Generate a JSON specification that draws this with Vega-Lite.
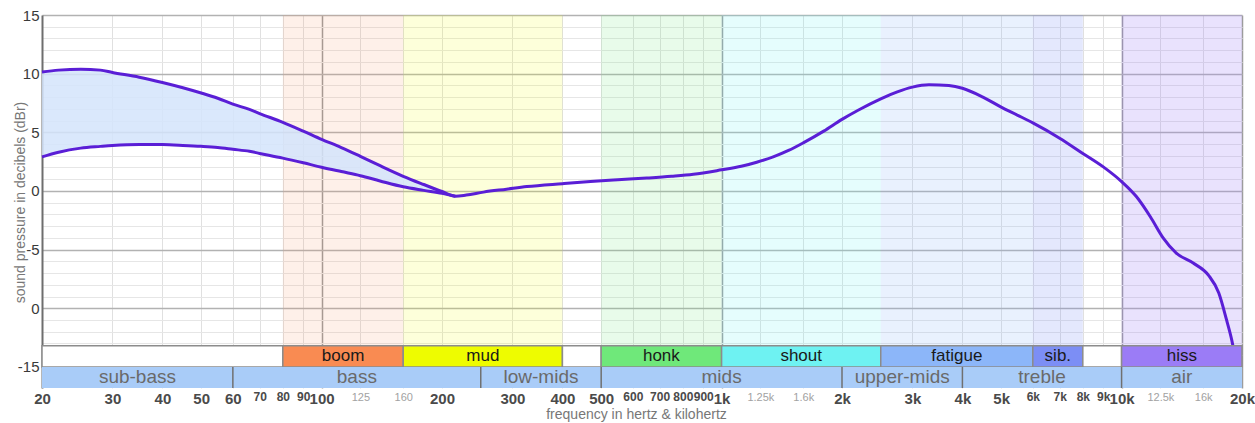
{
  "$schema": "https://vega.github.io/schema/vega-lite/v6.json",
  "width": 1200,
  "height": 373,
  "autosize": {"type": "none"},
  "padding": {"left": 42, "top": 15, "right": 13, "bottom": 35},
  "background": "white",
  "config": {"view": {"stroke": null}, "font": "Liberation Sans"},
  "datasets": {
    "response": [
      {"f": 20, "top": 10.15, "bottom": 2.9},
      {"f": 22, "top": 10.3, "bottom": 3.3},
      {"f": 25, "top": 10.38, "bottom": 3.65},
      {"f": 28, "top": 10.3, "bottom": 3.8},
      {"f": 30, "top": 10.1, "bottom": 3.88},
      {"f": 35, "top": 9.7, "bottom": 3.97},
      {"f": 40, "top": 9.25, "bottom": 3.95},
      {"f": 45, "top": 8.8, "bottom": 3.88},
      {"f": 50, "top": 8.35, "bottom": 3.8},
      {"f": 55, "top": 7.9, "bottom": 3.7},
      {"f": 60, "top": 7.4, "bottom": 3.55},
      {"f": 66, "top": 6.95, "bottom": 3.38},
      {"f": 70, "top": 6.6, "bottom": 3.2},
      {"f": 80, "top": 5.85, "bottom": 2.8},
      {"f": 90, "top": 5.1, "bottom": 2.4},
      {"f": 100, "top": 4.4, "bottom": 2.02},
      {"f": 112, "top": 3.7, "bottom": 1.65},
      {"f": 125, "top": 2.95, "bottom": 1.3},
      {"f": 140, "top": 2.15, "bottom": 0.85},
      {"f": 160, "top": 1.25, "bottom": 0.35},
      {"f": 180, "top": 0.55, "bottom": 0.05},
      {"f": 200, "top": -0.05, "bottom": -0.2},
      {"f": 216, "top": -0.45, "bottom": -0.45},
      {"f": 230, "top": -0.35},
      {"f": 254, "top": -0.1},
      {"f": 290, "top": 0.15},
      {"f": 326, "top": 0.37},
      {"f": 400, "top": 0.62},
      {"f": 470, "top": 0.8},
      {"f": 550, "top": 0.95},
      {"f": 650, "top": 1.1},
      {"f": 750, "top": 1.25},
      {"f": 850, "top": 1.42},
      {"f": 1000, "top": 1.8},
      {"f": 1120, "top": 2.1},
      {"f": 1224, "top": 2.45},
      {"f": 1346, "top": 2.9},
      {"f": 1470, "top": 3.45},
      {"f": 1600, "top": 4.1},
      {"f": 1800, "top": 5.1},
      {"f": 2000, "top": 6.1},
      {"f": 2200, "top": 6.9},
      {"f": 2500, "top": 7.85},
      {"f": 2750, "top": 8.45},
      {"f": 3000, "top": 8.85},
      {"f": 3300, "top": 9.05},
      {"f": 3700, "top": 8.98},
      {"f": 4000, "top": 8.75},
      {"f": 4500, "top": 8.0},
      {"f": 5000, "top": 7.15},
      {"f": 5500, "top": 6.45},
      {"f": 6000, "top": 5.8},
      {"f": 7000, "top": 4.5},
      {"f": 8000, "top": 3.2},
      {"f": 9000, "top": 2.05},
      {"f": 10000, "top": 0.8},
      {"f": 10900, "top": -0.5},
      {"f": 11800, "top": -2.2},
      {"f": 12700, "top": -4.0},
      {"f": 13700, "top": -5.3},
      {"f": 15100, "top": -6.15},
      {"f": 16500, "top": -7.2},
      {"f": 17500, "top": -8.7},
      {"f": 18300, "top": -11.0},
      {"f": 18850, "top": -12.7},
      {"f": 19400, "top": -15.0}
    ],
    "zones": [
      {"lo": 20, "hi": 80, "name": ""},
      {"lo": 80, "hi": 160, "name": "boom"},
      {"lo": 160, "hi": 400, "name": "mud"},
      {"lo": 400, "hi": 500, "name": ""},
      {"lo": 500, "hi": 1000, "name": "honk"},
      {"lo": 1000, "hi": 2500, "name": "shout"},
      {"lo": 2500, "hi": 6000, "name": "fatigue"},
      {"lo": 6000, "hi": 8000, "name": "sib."},
      {"lo": 8000, "hi": 10000, "name": ""},
      {"lo": 10000, "hi": 20000, "name": "hiss"}
    ],
    "ranges": [
      {"lo": 20, "hi": 60, "name": "sub-bass"},
      {"lo": 60, "hi": 250, "name": "bass"},
      {"lo": 250, "hi": 500, "name": "low-mids"},
      {"lo": 500, "hi": 2000, "name": "mids"},
      {"lo": 2000, "hi": 4000, "name": "upper-mids"},
      {"lo": 4000, "hi": 10000, "name": "treble"},
      {"lo": 10000, "hi": 20000, "name": "air"}
    ]
  },
  "layer": [
    {
      "data": {"name": "zones"},
      "transform": [{"filter": "datum.name != ''"}],
      "mark": {"type": "rect"},
      "encoding": {
        "x": {"field": "lo", "type": "quantitative", "scale": {"type": "log", "domain": [20, 20000], "nice": false}},
        "x2": {"field": "hi"},
        "y": {"datum": 15, "type": "quantitative", "scale": {"domain": [-16.8, 15], "nice": false, "zero": false}},
        "y2": {"datum": -13.2},
        "color": {
          "field": "name",
          "type": "nominal",
          "legend": null,
          "scale": {
            "domain": ["", "boom", "mud", "honk", "shout", "fatigue", "sib.", "hiss"],
            "range": ["#ffffff", "#f98b52", "#eefc00", "#6fe87a", "#6ef2f2", "#8cb6f9", "#7c8ef5", "#9b7cf6"]
          }
        },
        "opacity": {
          "field": "name",
          "type": "nominal",
          "legend": null,
          "scale": {
            "domain": ["boom", "mud", "honk", "shout", "fatigue", "sib.", "hiss"],
            "range": [0.13, 0.22, 0.19, 0.25, 0.16, 0.16, 0.15]
          }
        }
      }
    },
    {
      "data": {"name": "response"},
      "transform": [{"filter": "isValid(datum.bottom)"}],
      "mark": {"type": "area", "color": "#d3e4fb", "opacity": 0.85, "interpolate": "monotone"},
      "encoding": {
        "x": {
          "field": "f",
          "type": "quantitative",
          "title": "frequency in hertz & kilohertz",
          "axis": {
            "values": [20, 30, 40, 50, 60, 70, 80, 90, 100, 125, 160, 200, 300, 400, 500, 600, 700, 800, 900, 1000, 1250, 1600, 2000, 3000, 4000, 5000, 6000, 7000, 8000, 9000, 10000, 12500, 16000, 20000],
            "tickCount": 60,
            "labelExpr": "datum.value >= 1000 ? (datum.value / 1000) + 'k' : '' + datum.value",
            "labelOverlap": false,
            "labelFlush": false,
            "labelPadding": 3,
            "labelBaseline": "top",
            "ticks": false,
            "domain": false,
            "labelFont": "Liberation Sans",
            "labelFontSize": {
              "condition": [
                {"test": "indexof([20,30,40,50,60,100,200,300,400,500,1000,2000,3000,4000,5000,10000,20000], datum.value) >= 0", "value": 15},
                {"test": "indexof([125,160,1250,1600,12500,16000], datum.value) >= 0", "value": 11}
              ],
              "value": 12
            },
            "labelFontWeight": {
              "condition": {"test": "indexof([125,160,1250,1600,12500,16000], datum.value) >= 0", "value": "normal"},
              "value": "bold"
            },
            "labelColor": {
              "condition": {"test": "indexof([125,160,1250,1600,12500,16000], datum.value) >= 0", "value": "#a2a2a2"},
              "value": "#4a4a4a"
            },
            "grid": true,
            "gridColor": {
              "condition": {"test": "indexof([100,1000,10000,20000], datum.value) >= 0", "value": "#9c9c9c"},
              "value": "#e0e0e0"
            },
            "gridWidth": {
              "condition": {"test": "indexof([100,1000,10000,20000], datum.value) >= 0", "value": 1.5},
              "value": 1
            },
            "titleFont": "Liberation Sans",
            "titleFontSize": 14,
            "titleFontWeight": "normal",
            "titleColor": "#777777",
            "titleX": 594,
            "titleY": 26,
            "titleBaseline": "middle"
          }
        },
        "y": {
          "field": "top",
          "type": "quantitative",
          "title": "sound pressure in decibels (dBr)",
          "axis": {
            "values": [-15, -14, -13, -12, -11, -10, -9, -8, -7, -6, -5, -4, -3, -2, -1, 0, 1, 2, 3, 4, 5, 6, 7, 8, 9, 10, 11, 12, 13, 14, 15],
            "tickCount": 60,
            "labelExpr": "datum.value % 5 === 0 ? (datum.value === -10 ? '0' : '' + datum.value) : ''",
            "labelOverlap": false,
            "labelFont": "Liberation Sans",
            "labelFontSize": 15,
            "labelColor": "#3a3a3a",
            "labelPadding": 3,
            "ticks": false,
            "domainColor": "#6e6e6e",
            "domainWidth": 2,
            "grid": true,
            "gridColor": {
              "condition": {"test": "datum.value % 5 === 0", "value": "#b2b2b2"},
              "value": "#e6e6e6"
            },
            "gridWidth": {
              "condition": {"test": "datum.value % 5 === 0", "value": 1.5},
              "value": 1
            },
            "titleFont": "Liberation Sans",
            "titleFontSize": 14,
            "titleFontWeight": "normal",
            "titleColor": "#777777",
            "titleX": -22,
            "titleY": 187,
            "titleAngle": 270,
            "titleAlign": "center",
            "titleBaseline": "middle"
          }
        },
        "y2": {"field": "bottom"}
      }
    },
    {
      "data": {"name": "response"},
      "mark": {"type": "line", "color": "#5a1ed6", "strokeWidth": 3, "interpolate": "monotone"},
      "encoding": {
        "x": {"field": "f", "type": "quantitative"},
        "y": {"field": "top", "type": "quantitative"}
      }
    },
    {
      "data": {"name": "response"},
      "transform": [{"filter": "isValid(datum.bottom)"}],
      "mark": {"type": "line", "color": "#5a1ed6", "strokeWidth": 3, "interpolate": "monotone"},
      "encoding": {
        "x": {"field": "f", "type": "quantitative"},
        "y": {"field": "bottom", "type": "quantitative"}
      }
    },
    {
      "data": {"name": "zones"},
      "mark": {"type": "rect", "stroke": "#8c8c8c", "strokeWidth": 1.5, "opacity": 1},
      "encoding": {
        "x": {"field": "lo", "type": "quantitative"},
        "x2": {"field": "hi"},
        "y": {"datum": -13.2, "type": "quantitative"},
        "y2": {"datum": -15},
        "color": {"field": "name", "type": "nominal", "legend": null}
      }
    },
    {
      "data": {"name": "ranges"},
      "mark": {"type": "rect", "fill": "#a9ccf8", "strokeWidth": 0},
      "encoding": {
        "x": {"field": "lo", "type": "quantitative"},
        "x2": {"field": "hi"},
        "y": {"datum": -15, "type": "quantitative"},
        "y2": {"datum": -16.8}
      }
    },
    {
      "data": {"name": "ranges"},
      "transform": [{"filter": "datum.lo > 20"}],
      "mark": {"type": "rule", "color": "#707070", "strokeWidth": 1.5},
      "encoding": {
        "x": {"field": "lo", "type": "quantitative"},
        "y": {"datum": -15, "type": "quantitative"},
        "y2": {"datum": -16.8}
      }
    },
    {
      "data": {"name": "zones"},
      "transform": [{"calculate": "sqrt(datum.lo * datum.hi)", "as": "mid"}],
      "mark": {"type": "text", "font": "Liberation Sans", "fontSize": 17, "color": "#1a1a1a", "baseline": "middle", "align": "center"},
      "encoding": {
        "x": {"field": "mid", "type": "quantitative"},
        "y": {"datum": -14.1, "type": "quantitative"},
        "text": {"field": "name"}
      }
    },
    {
      "data": {"name": "ranges"},
      "transform": [{"calculate": "sqrt(datum.lo * datum.hi)", "as": "mid"}],
      "mark": {"type": "text", "font": "Liberation Sans", "fontSize": 19, "color": "#6a6a6a", "baseline": "middle", "align": "center"},
      "encoding": {
        "x": {"field": "mid", "type": "quantitative"},
        "y": {"datum": -15.9, "type": "quantitative"},
        "text": {"field": "name"}
      }
    }
  ]
}
